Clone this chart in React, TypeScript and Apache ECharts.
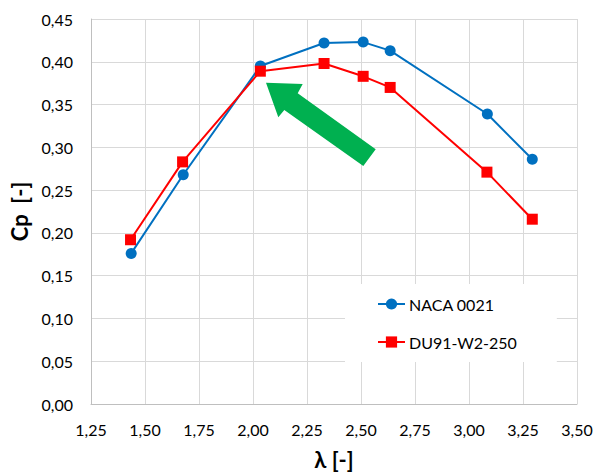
import React, { useEffect, useRef } from "react";
import * as echarts from "echarts";

const naca0021X = [1.436, 1.677, 2.034, 2.329, 2.51, 2.635, 3.085, 3.293];
const naca0021Y = [0.176, 0.268, 0.395, 0.422, 0.423, 0.413, 0.339, 0.286];
const du91X = [1.433, 1.674, 2.034, 2.329, 2.51, 2.635, 3.083, 3.293];
const du91Y = [0.192, 0.283, 0.389, 0.398, 0.383, 0.37, 0.271, 0.216];
const seriesNames = ["NACA 0021", "DU91-W2-250"];
const xTitle = "λ [-]";
const yTitle = "Cp  [-]";

const FONT = "Lato, 'Open Sans', sans-serif";
const fmt = (v: number) => v.toFixed(2).replace(".", ",");

export default function App() {
  const ref = useRef<HTMLDivElement>(null);
  useEffect(() => {
    if (!ref.current) return;
    const chart = echarts.init(ref.current, undefined, { renderer: "svg" });
    chart.setOption({
      animation: false,
      backgroundColor: "#ffffff",
      textStyle: { fontFamily: FONT },
      grid: { left: 91, right: 22, top: 19, bottom: 71, containLabel: false },
      xAxis: {
        type: "value",
        min: 1.25,
        max: 3.5,
        interval: 0.25,
        name: xTitle,
        nameLocation: "middle",
        nameGap: 44,
        nameTextStyle: { fontFamily: FONT, fontSize: 22, fontWeight: "bold", color: "#000" },
        axisLine: { show: true, lineStyle: { color: "#bfbfbf", width: 1 } },
        axisTick: { show: false },
        axisLabel: { formatter: fmt, fontSize: 16, color: "#000", margin: 17, fontFamily: FONT },
        splitLine: { show: true, lineStyle: { color: "#d9d9d9", width: 1 } },
      },
      yAxis: {
        type: "value",
        min: 0,
        max: 0.45,
        interval: 0.05,
        name: yTitle,
        nameLocation: "middle",
        nameGap: 58,
        nameRotate: 90,
        nameTextStyle: { fontFamily: FONT, fontSize: 22, fontWeight: "bold", color: "#000" },
        axisLine: { show: true, lineStyle: { color: "#bfbfbf", width: 1 } },
        axisTick: { show: false },
        axisLabel: { formatter: fmt, fontSize: 16, color: "#000", margin: 18, fontFamily: FONT },
        splitLine: { show: true, lineStyle: { color: "#d9d9d9", width: 1 } },
      },
      legend: {
        show: true,
        orient: "vertical",
        left: 345,
        top: 284,
        padding: [12, 40, 12, 32],
        backgroundColor: "#ffffff",
        itemWidth: 27,
        itemHeight: 14,
        itemGap: 22,
        textStyle: { fontFamily: FONT, fontSize: 16, color: "#000", padding: [0, 0, 0, -1] },
        data: seriesNames,
        z: 1,
      },
      series: [
        {
          name: seriesNames[0],
          type: "line",
          data: naca0021X.map((x, i) => [x, naca0021Y[i]]),
          symbol: "circle",
          symbolSize: 11,
          lineStyle: { color: "#0070C0", width: 2 },
          itemStyle: { color: "#0070C0" },
          z: 3,
        },
        {
          name: seriesNames[1],
          type: "line",
          data: du91X.map((x, i) => [x, du91Y[i]]),
          symbol: "rect",
          symbolSize: 11,
          lineStyle: { color: "#FF0000", width: 2 },
          itemStyle: { color: "#FF0000" },
          z: 4,
        },
      ],
      graphic: [
        {
          type: "polygon",
          z: 10,
          shape: {
            points: [
              [266, 82.7],
              [302.7, 84],
              [297.7, 93.3],
              [375.7, 149.3],
              [363.3, 166],
              [284.3, 110],
              [278.3, 117.3],
            ],
          },
          style: { fill: "#00B050" },
        },
      ],
    });
    return () => chart.dispose();
  }, []);
  return <div ref={ref} style={{ width: 599, height: 475, position: "absolute", left: 0, top: 0 }} />;
}
